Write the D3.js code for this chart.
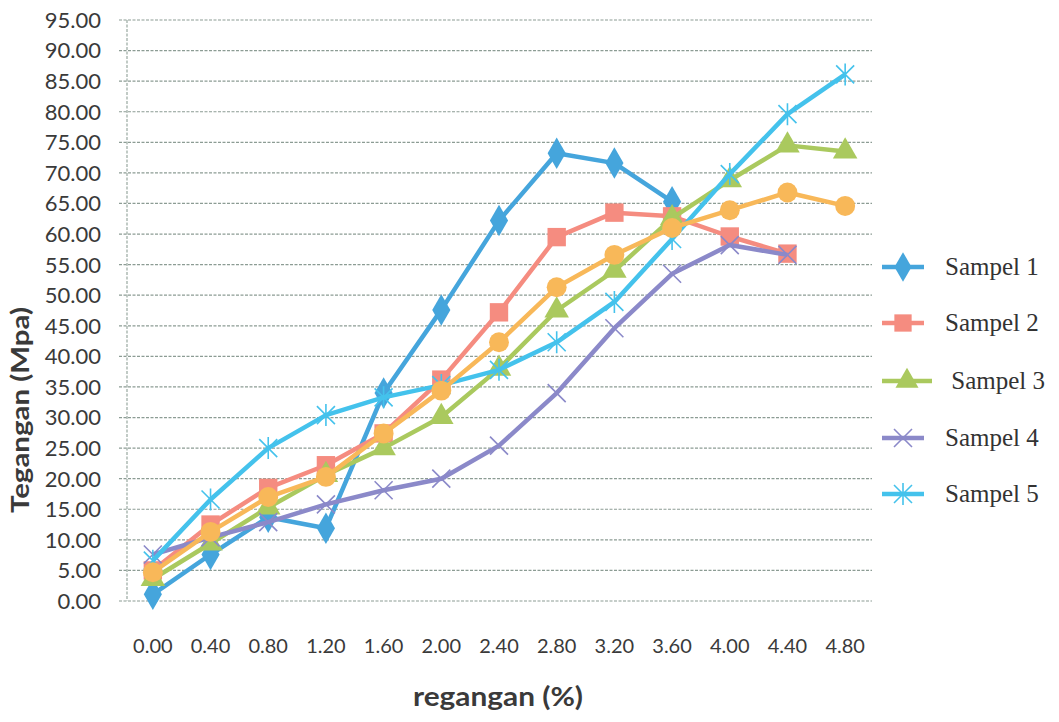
<!DOCTYPE html>
<html>
<head>
<meta charset="utf-8">
<script src="https://cdn.jsdelivr.net/npm/d3@7"></script>
<style>
  body { margin: 0; background: #fff; }
</style>
</head>
<body>
<div id="chart"></div>
<script>
const strainLabels = ["0.00", "0.40", "0.80", "1.20", "1.60", "2.00", "2.40", "2.80", "3.20", "3.60", "4.00", "4.40", "4.80"];
const yTicks = d3.range(0, 96, 5);

const sampel1 = [1.1, 7.6, 13.7, 11.9, 34.0, 47.6, 62.2, 73.2, 71.6, 65.3];
const sampel2 = [5.0, 12.5, 18.5, 22.2, 27.4, 36.2, 47.2, 59.5, 63.5, 62.9, 59.6, 56.8];
const sampel3 = [3.6, 9.4, 15.3, 20.6, 25.0, 30.1, 38.0, 47.5, 54.0, 62.6, 68.8, 74.5, 73.5];
const sampel4 = [7.6, 10.4, 12.9, 15.8, 18.1, 20.0, 25.4, 34.0, 44.6, 53.5, 58.2, 56.6];
const sampel5 = [6.6, 16.6, 25.0, 30.4, 33.3, 35.3, 37.8, 42.3, 48.9, 59.2, 69.8, 79.6, 86.1];
// orange series drawn in the plot but not listed in the legend
const sampel6 = [4.7, 11.3, 17.0, 20.3, 27.4, 34.4, 42.3, 51.3, 56.6, 61.0, 63.9, 66.8, 64.6];

const seriesNames = ["Sampel 1", "Sampel 2", " Sampel 3", "Sampel 4", "Sampel 5"];
const seriesValues = [sampel1, sampel2, sampel3, sampel4, sampel5, sampel6];
const colors = ["#45a5dc", "#f58c80", "#aac95e", "#8b89c9", "#44c2ec", "#f8b859"];
const shapes = ["diamond", "square", "triangle", "cross", "star", "circle"];

const width = 1059, height = 722;
const svg = d3.select("#chart").append("svg")
    .attr("width", width)
    .attr("height", height);

const x = d3.scaleBand()
    .domain(strainLabels)
    .range([124, 874]);

const y = d3.scaleLinear()
    .domain([0, 95])
    .range([601, 20]);

// gridlines
svg.append("g")
    .selectAll("line")
    .data(yTicks)
    .enter().append("line")
    .attr("x1", 119)
    .attr("x2", 872)
    .attr("y1", d => y(d))
    .attr("y2", d => y(d))
    .style("stroke", "#8c9c94")
    .style("stroke-width", 1.2)
    .style("stroke-dasharray", "3,1.5");

// left axis line
svg.append("line")
    .attr("x1", 127).attr("x2", 127)
    .attr("y1", y(95)).attr("y2", y(0))
    .style("stroke", "#98a8a0")
    .style("stroke-width", 1.2)
    .style("stroke-dasharray", "3,1.5");

// y tick labels
svg.append("g")
    .selectAll("text")
    .data(yTicks)
    .enter().append("text")
    .attr("x", 101)
    .attr("y", d => y(d))
    .attr("dy", "0.36em")
    .attr("text-anchor", "end")
    .style("font-family", "Lato, sans-serif")
    .style("font-size", "22px")
    .style("fill", "#3a3a3a")
    .text(d => d.toFixed(2));

// x tick labels
svg.append("g")
    .selectAll("text")
    .data(strainLabels)
    .enter().append("text")
    .attr("x", d => x(d) + x.bandwidth() / 2)
    .attr("y", 653)
    .attr("text-anchor", "middle")
    .style("font-family", "Lato, sans-serif")
    .style("font-size", "20px")
    .style("fill", "#3a3a3a")
    .text(d => d);

// axis titles
svg.append("text")
    .attr("transform", "translate(29,410) rotate(-90)")
    .attr("text-anchor", "middle")
    .attr("textLength", 206)
    .attr("lengthAdjust", "spacingAndGlyphs")
    .style("font-family", "Lato, sans-serif")
    .style("font-weight", "bold")
    .style("font-size", "25px")
    .style("fill", "#3a3a3a")
    .text("Tegangan (Mpa)");

svg.append("text")
    .attr("x", 498)
    .attr("y", 706)
    .attr("text-anchor", "middle")
    .attr("textLength", 170)
    .attr("lengthAdjust", "spacingAndGlyphs")
    .style("font-family", "Lato, sans-serif")
    .style("font-weight", "bold")
    .style("font-size", "26px")
    .style("fill", "#3a3a3a")
    .text("regangan (%)");

function drawMarker(g, shape, color, size) {
    if (shape === "diamond") {
        g.append("path").attr("d", d3.symbol(d3.symbolDiamond, size * 1.1)())
            .style("fill", color);
    } else if (shape === "square") {
        g.append("path").attr("d", d3.symbol(d3.symbolSquare, size * 1.3)())
            .style("fill", color);
    } else if (shape === "triangle") {
        g.append("path").attr("d", d3.symbol(d3.symbolTriangle, size)())
            .style("fill", color);
    } else if (shape === "circle") {
        g.append("path").attr("d", d3.symbol(d3.symbolCircle, size * 1.2)())
            .style("fill", color);
    } else if (shape === "cross") {
        g.append("path").attr("d", "M-9,-9L9,9M-9,9L9,-9")
            .style("stroke", color).style("stroke-width", 1.6);
    } else {
        g.append("path").attr("d", "M-9,-9L9,9M-9,9L9,-9M0,-11L0,11")
            .style("stroke", color).style("stroke-width", 1.6);
    }
}

const line = d3.line()
    .x((d, i) => x(strainLabels[i]) + x.bandwidth() / 2)
    .y(d => y(d));

seriesValues.forEach((vals, s) => {
    const g = svg.append("g");
    g.append("path")
        .datum(vals)
        .attr("d", line)
        .style("fill", "none")
        .style("stroke", colors[s])
        .style("stroke-width", 4.5)
        .style("stroke-linejoin", "round");

    vals.forEach((v, i) => {
        const m = g.append("g")
            .attr("transform", `translate(${x(strainLabels[i]) + x.bandwidth() / 2},${y(v)})`);
        drawMarker(m, shapes[s], colors[s], 260);
    });
});

// legend
const legendY = [267, 323, 381, 438, 494];
seriesNames.forEach((name, s) => {
    const g = svg.append("g").attr("transform", `translate(0,${legendY[s]})`);
    g.append("line")
        .attr("x1", 882).attr("x2", s === 2 ? 932 : 924)
        .attr("y1", 0).attr("y2", 0)
        .style("stroke", colors[s])
        .style("stroke-width", 4.5);
    const m = g.append("g").attr("transform", `translate(${s === 2 ? 907 : 903},0)`);
    drawMarker(m, shapes[s], colors[s], 230);
    g.append("text")
        .attr("x", 945)
        .attr("y", 0)
        .attr("dy", "0.33em")
        .attr("xml:space", "preserve")
        .style("white-space", "pre")
        .style("font-family", "'Liberation Serif', 'Times New Roman', serif")
        .style("font-size", "25px")
        .style("fill", "#333")
        .text(name);
});
</script>
</body>
</html>
